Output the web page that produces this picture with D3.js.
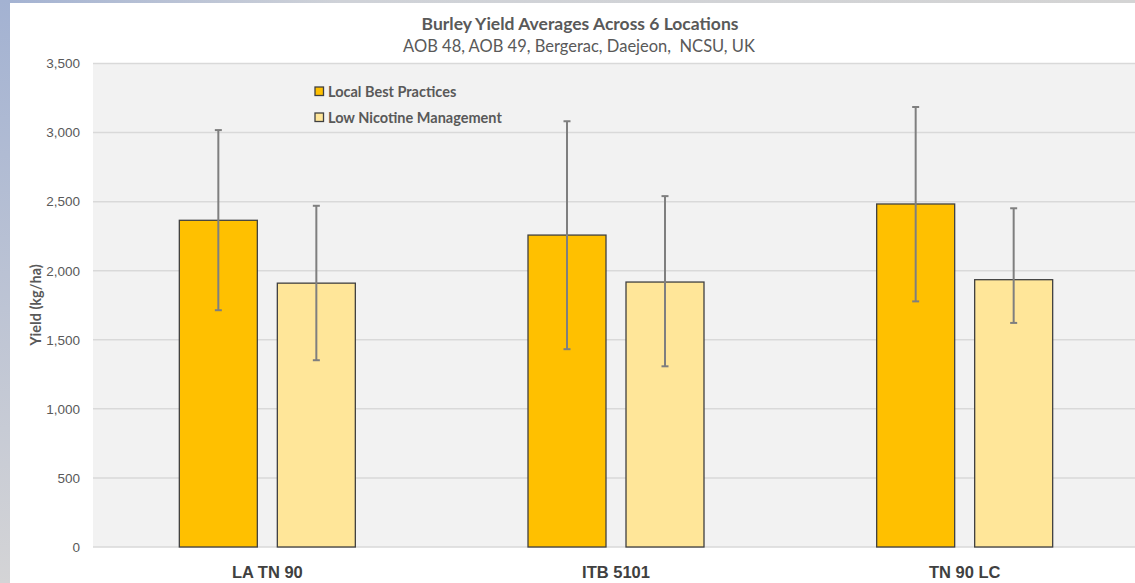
<!DOCTYPE html>
<html>
<head>
<meta charset="utf-8">
<script src="https://cdn.jsdelivr.net/npm/d3@7"></script>
<style>
  html, body { margin: 0; padding: 0; background: #fff; overflow: hidden; }
  svg { display: block; font-family: Lato, "Open Sans", "Liberation Sans", sans-serif; }
</style>
</head>
<body>
<script>
// ---- data ----
const categories = ["LA TN 90", "ITB 5101", "TN 90 LC"];
const seriesNames = ["Local Best Practices", "Low Nicotine Management"];
const localBest = [2365, 2258, 2483];
const localBestLow = [1714, 1432, 1778];
const localBestHigh = [3018, 3082, 3185];
const lowNicotine = [1910, 1918, 1935];
const lowNicotineLow = [1352, 1308, 1622];
const lowNicotineHigh = [2470, 2540, 2452];
const yTicks = [0, 500, 1000, 1500, 2000, 2500, 3000, 3500];
const title = "Burley Yield Averages Across 6 Locations";
const subtitle = "AOB 48, AOB 49, Bergerac, Daejeon,  NCSU, UK";
const yTitle = "Yield (kg/ha)";

const W = 1135, H = 583;
const colors = ["#FFC000", "#FFE699"];
const series = [
  { name: seriesNames[0], values: localBest, lo: localBestLow, hi: localBestHigh },
  { name: seriesNames[1], values: lowNicotine, lo: lowNicotineLow, hi: lowNicotineHigh }
];

const svg = d3.select("body").append("svg").attr("width", W).attr("height", H);

// frame decorations
const defs = svg.append("defs");
const gl = defs.append("linearGradient").attr("id", "leftg").attr("x1", 0).attr("y1", 0).attr("x2", 0).attr("y2", 1);
gl.append("stop").attr("offset", "0%").attr("stop-color", "#a3b2d2");
gl.append("stop").attr("offset", "100%").attr("stop-color", "#d4d4d6");
const gt = defs.append("linearGradient").attr("id", "topg").attr("x1", 0).attr("y1", 0).attr("x2", 1).attr("y2", 0);
gt.append("stop").attr("offset", "0%").attr("stop-color", "#a3b2d2");
gt.append("stop").attr("offset", "30%").attr("stop-color", "#cfd2d8");
gt.append("stop").attr("offset", "100%").attr("stop-color", "#d4d4d4");
svg.append("rect").attr("x", 0).attr("y", 0).attr("width", W).attr("height", 3).attr("fill", "url(#topg)");
svg.append("rect").attr("x", 0).attr("y", 0).attr("width", 10).attr("height", H).attr("fill", "url(#leftg)");

// scales
const plotL = 93, plotR = 1139, plotT = 63.5, plotB = 547;
const x = d3.scaleBand().domain(categories).range([plotL, plotR]).paddingInner(0).paddingOuter(0);
const y = d3.scaleLinear().domain([0, 3500]).range([plotB, plotT]);
const barW = 78, barGap = 20;
const xs = d3.scaleBand().domain([0, 1]).range([-(barW + barGap / 2), barW + barGap / 2]).paddingInner(barGap / (barW + barGap)).paddingOuter(0);

// plot background
svg.append("rect").attr("x", plotL).attr("y", plotT).attr("width", plotR - plotL).attr("height", plotB - plotT).attr("fill", "#f2f2f2");

// gridlines
svg.append("g").selectAll("line").data(yTicks).join("line")
  .attr("x1", plotL).attr("x2", plotR)
  .attr("y1", d => y(d)).attr("y2", d => y(d))
  .attr("stroke", "#d9d9d9").attr("stroke-width", 1.5);

// y axis labels
const yAxis = d3.axisLeft(y).tickValues(yTicks).tickSize(0).tickPadding(13).tickFormat(d3.format(","));
const ya = svg.append("g").attr("transform", `translate(${plotL},0)`).call(yAxis);
ya.select(".domain").remove();
ya.selectAll("text").attr("fill", "#595959").style("font-size", "13.5px");

// bars
series.forEach((s, si) => {
  const g = svg.append("g");
  g.selectAll("rect").data(categories).join("rect")
    .attr("x", (c) => x(c) + x.bandwidth() / 2 + xs(si))
    .attr("y", (c, i) => y(s.values[i]))
    .attr("width", xs.bandwidth())
    .attr("height", (c, i) => y(0) - y(s.values[i]))
    .attr("fill", colors[si])
    .attr("stroke", "#404040").attr("stroke-width", 1.3);
});

// error bars
series.forEach((s, si) => {
  const g = svg.append("g").attr("stroke", "#7f7f7f").attr("stroke-width", 2);
  categories.forEach((c, i) => {
    const cx = x(c) + x.bandwidth() / 2 + xs(si) + xs.bandwidth() / 2;
    g.append("line").attr("x1", cx).attr("x2", cx).attr("y1", y(s.hi[i])).attr("y2", y(s.lo[i]));
    g.append("line").attr("x1", cx - 3.5).attr("x2", cx + 3.5).attr("y1", y(s.hi[i])).attr("y2", y(s.hi[i]));
    g.append("line").attr("x1", cx - 3.5).attr("x2", cx + 3.5).attr("y1", y(s.lo[i])).attr("y2", y(s.lo[i]));
  });
});

// x axis labels
const xAxis = d3.axisBottom(x).tickSize(0).tickPadding(19);
const xa = svg.append("g").attr("transform", `translate(0,${plotB})`).call(xAxis);
xa.select(".domain").remove();
xa.selectAll("text").attr("fill", "#404040").style("font-size", "16.5px").style("font-weight", "bold");

// titles
svg.append("text").attr("x", 580).attr("y", 30).attr("text-anchor", "middle")
  .attr("fill", "#595959").style("font-size", "17.5px").style("font-weight", "bold").text(title);
svg.append("text").attr("x", 579).attr("y", 52).attr("text-anchor", "middle")
  .attr("fill", "#595959").style("font-size", "16.5px").style("white-space", "pre").text(subtitle);

// y title
svg.append("text").attr("transform", "translate(41,305) rotate(-90)").attr("text-anchor", "middle")
  .attr("fill", "#595959").style("font-size", "14.5px").style("font-weight", "bold").text(yTitle);

// legend
const lg = svg.append("g").selectAll("g").data(series).join("g")
  .attr("transform", (d, i) => `translate(315,${87 + i * 26})`);
lg.append("rect").attr("width", 8.5).attr("height", 8.5).attr("fill", (d, i) => colors[i])
  .attr("stroke", "#404040").attr("stroke-width", 1.3);
lg.append("text").attr("x", 13).attr("y", 10).attr("fill", "#595959")
  .style("font-size", "14.5px").style("font-weight", "bold").text(d => d.name);
</script>
</body>
</html>
